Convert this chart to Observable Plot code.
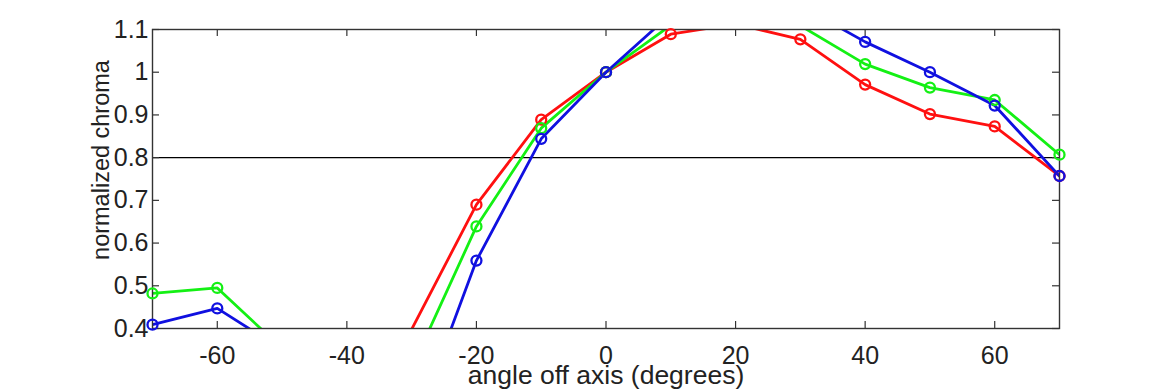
<!DOCTYPE html>
<html>
<head>
<meta charset="utf-8">
<script src="https://cdn.jsdelivr.net/npm/d3@7"></script>
<script src="https://cdn.jsdelivr.net/npm/@observablehq/plot@0.6"></script>
<style>
  html, body { margin: 0; padding: 0; background: #fff; }
  #chart { width: 1170px; height: 390px; }
</style>
</head>
<body>
<div id="chart"></div>
<script>
const angles = [-70, -60, -50, -40, -30, -20, -10, 0, 10, 20, 30, 40, 50, 60, 70];
const red   = [0.33, 0.36, 0.30, 0.30, 0.398, 0.690, 0.889, 1.0, 1.089, 1.113, 1.077, 0.971, 0.902, 0.873, 0.757];
const green = [0.482, 0.495, 0.353, 0.25, 0.307, 0.639, 0.869, 1.0, 1.11, 1.16, 1.109, 1.019, 0.964, 0.935, 0.807];
const blue  = [0.409, 0.447, 0.351, 0.20, 0.151, 0.559, 0.844, 1.0, 1.136, 1.20, 1.156, 1.071, 1.0, 0.922, 0.757];
const seriesNames = ["R", "G", "B"];
const seriesColors = ["#ff1010", "#14f014", "#1010e0"];
const xTicks = [-60, -40, -20, 0, 20, 40, 60];
const yTicks = [0.4, 0.5, 0.6, 0.7, 0.8, 0.9, 1.0, 1.1];
const refLine = [0.8];
const xLabel = "angle off axis (degrees)";
const yLabel = "normalized chroma";
const yDomain = [0.4, 1.1];

const rows = [];
[red, green, blue].forEach((vals, si) => {
  vals.forEach((v, i) => rows.push({series: seriesNames[si], angle: angles[i], value: v}));
});

const W = 1170, H = 390, mL = 152, mR = 111, mT = 29, mB = 62;
const pw = W - mL - mR, ph = H - mT - mB;
const tickLen = 7;
const font = "'Liberation Sans', Arial, Helvetica, sans-serif";

const chart = Plot.plot({
  width: W, height: H,
  marginLeft: mL, marginRight: mR, marginTop: mT, marginBottom: mB,
  style: {fontFamily: font, background: "#fff", color: "#222", overflow: "visible"},
  x: {domain: [-70, 70]},
  y: {domain: yDomain},
  color: {domain: seriesNames, range: seriesColors},
  marks: [
    Plot.ruleY(refLine, {stroke: "#000", strokeWidth: 1.3}),
    Plot.line(rows, {x: "angle", y: "value", z: "series", stroke: "series", strokeWidth: 2.8, clip: true}),
    Plot.tickX(xTicks, {x: d => d, insetTop: ph - tickLen, stroke: "#333", strokeWidth: 1.2}),
    Plot.tickX(xTicks, {x: d => d, insetBottom: ph - tickLen, stroke: "#333", strokeWidth: 1.2}),
    Plot.tickY(yTicks, {y: d => d, insetRight: pw - tickLen, stroke: "#333", strokeWidth: 1.2}),
    Plot.tickY(yTicks, {y: d => d, insetLeft: pw - tickLen, stroke: "#333", strokeWidth: 1.2}),
    Plot.frame({stroke: "#333", strokeWidth: 1.4}),
    Plot.dot(rows, {x: "angle", y: "value", stroke: "series", r: 5, strokeWidth: 2.3, fill: "none",
      filter: d => d.value >= yDomain[0] && d.value <= yDomain[1]}),
    Plot.axisX(xTicks, {tickSize: 0, tickPadding: 18, fontSize: 25, label: null, tickFormat: d => d < 0 ? "-" + Math.abs(d) : String(d)}),
    Plot.axisY(yTicks, {tickSize: 0, tickPadding: 4, fontSize: 25, label: null, tickFormat: d3.format("~g")}),
    Plot.text([xLabel], {frameAnchor: "bottom", dy: 55, fontSize: 26.5, fill: "#222"}),
    Plot.text([yLabel], {frameAnchor: "left", textAnchor: "middle", dx: -51, dy: -19, rotate: -90, fontSize: 23.5, fill: "#222"})
  ]
});
document.getElementById("chart").appendChild(chart);
</script>
</body>
</html>
